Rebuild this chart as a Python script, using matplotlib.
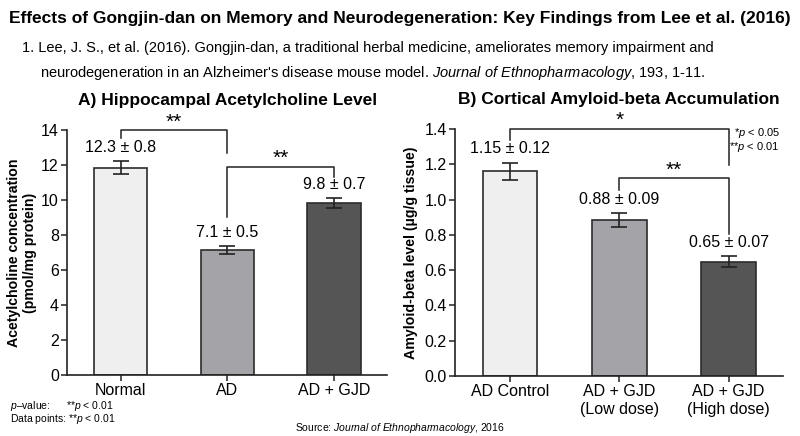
import matplotlib.pyplot as plt

plt.rcParams['font.family'] = ['Liberation Sans', 'DejaVu Sans']
plt.rcParams['mathtext.fontset'] = 'custom'
plt.rcParams['mathtext.rm'] = 'Liberation Sans'
plt.rcParams['mathtext.it'] = 'Liberation Sans:italic'
plt.rcParams['mathtext.bf'] = 'Liberation Sans:bold'

# panel A: acetylcholine
ach_groups = ["Normal", "AD", "AD + GJD"]
ach_values = [11.85, 7.14, 9.82]
ach_err = [0.37, 0.23, 0.30]
ach_labels = ["12.3 ± 0.8", "7.1 ± 0.5", "9.8 ± 0.7"]

# panel B: amyloid-beta
ab_groups = ["AD Control", "AD + GJD\n(Low dose)", "AD + GJD\n(High dose)"]
ab_values = [1.16, 0.885, 0.648]
ab_err = [0.05, 0.04, 0.03]
ab_labels = ["1.15 ± 0.12", "0.88 ± 0.09", "0.65 ± 0.07"]

bar_colors = ["#efefef", "#a4a4a8", "#555555"]
edge = "#2b2b2b"

fig = plt.figure(figsize=(8, 4.36), dpi=100)
fig.patch.set_facecolor("white")

fig.text(0.5, 0.958, "Effects of Gongjin-dan on Memory and Neurodegeneration: Key Findings from Lee et al. (2016)",
         ha="center", va="center", fontsize=12.5, fontweight="bold")
fig.text(0.027, 0.89, "1. Lee, J. S., et al. (2016). Gongjin-dan, a traditional herbal medicine, ameliorates memory impairment and",
         ha="left", va="center", fontsize=10.5)
fig.text(0.05, 0.833, "neurodegeneration in an Alzheimer's disease mouse model. $\\it{Journal\\ of\\ Ethnopharmacology}$, $\\it{193}$, 1-11.",
         ha="left", va="center", fontsize=10.5)

axA = fig.add_axes([0.084, 0.140, 0.400, 0.562])
axB = fig.add_axes([0.569, 0.138, 0.410, 0.566])


def style(ax, ymax, step, fmt):
    for s in ["top", "right"]:
        ax.spines[s].set_visible(False)
    for s in ["left", "bottom"]:
        ax.spines[s].set_linewidth(1.2)
        ax.spines[s].set_color("#222222")
    ax.set_xlim(-0.5, 2.5)
    ax.set_ylim(0, ymax)
    ticks = [i * step for i in range(int(round(ymax / step)) + 1)]
    ax.set_yticks(ticks)
    ax.set_yticklabels([fmt.format(t) for t in ticks])
    ax.tick_params(axis="both", labelsize=11.5, width=1.1, length=4, color="#222222", pad=2)


# panel A
x = range(len(ach_groups))
axA.bar(x, ach_values, width=0.5, color=bar_colors, edgecolor=edge, linewidth=1.2, zorder=2)
axA.errorbar(x, ach_values, yerr=ach_err, fmt="none", ecolor="#222222", elinewidth=1.2, capsize=6, capthick=1.2, zorder=3)
for i, (v, e, lab) in enumerate(zip(ach_values, ach_err, ach_labels)):
    axA.text(i, v + e + 0.35, lab, ha="center", va="bottom", fontsize=11.5)
style(axA, 14, 2, "{:.0f}")
axA.set_xticks(list(x))
axA.set_xticklabels(ach_groups)
axA.set_ylabel("Acetylcholine concentration\n(pmol/mg protein)", fontsize=10.2, fontweight="bold", labelpad=3)
axA.set_title("A) Hippocampal Acetylcholine Level", fontsize=12.5, fontweight="bold", pad=18)

# brackets A
axA.plot([0, 0, 1, 1], [13.54, 14.0, 14.0, 12.69], color="#222222", lw=1.1, clip_on=False)
axA.text(0.5, 14.45, "**", ha="center", va="center", fontsize=15)
axA.plot([1, 1, 2, 2], [9.03, 11.89, 11.89, 11.31], color="#222222", lw=1.1, clip_on=False)
axA.text(1.5, 12.4, "**", ha="center", va="center", fontsize=15)

# panel B
x = range(len(ab_groups))
axB.bar(x, ab_values, width=0.5, color=bar_colors, edgecolor=edge, linewidth=1.2, zorder=2)
axB.errorbar(x, ab_values, yerr=ab_err, fmt="none", ecolor="#222222", elinewidth=1.2, capsize=6, capthick=1.2, zorder=3)
for i, (v, e, lab) in enumerate(zip(ab_values, ab_err, ab_labels)):
    axB.text(i, v + e + 0.035, lab, ha="center", va="bottom", fontsize=11.5)
style(axB, 1.4, 0.2, "{:.1f}")
axB.set_xticks(list(x))
axB.set_xticklabels(ab_groups)
axB.set_ylabel("Amyloid-beta level (µg/g tissue)", fontsize=10.2, fontweight="bold", labelpad=5)
axB.set_title("B) Cortical Amyloid-beta Accumulation", fontsize=12.5, fontweight="bold", pad=18)

axB.plot([0, 0, 2, 2], [1.338, 1.4, 1.4, 1.196], color="#222222", lw=1.1, clip_on=False)
axB.text(1.0, 1.45, "*", ha="center", va="center", fontsize=15)
axB.plot([1, 1, 2, 2], [1.054, 1.122, 1.122, 0.805], color="#222222", lw=1.1, clip_on=False)
axB.text(1.5, 1.168, "**", ha="center", va="center", fontsize=15)

fig.text(0.975, 0.695, "*$\\it{p}$ < 0.05", ha="right", va="center", fontsize=8)
fig.text(0.975, 0.663, "**$\\it{p}$ < 0.01", ha="right", va="center", fontsize=8)

fig.text(0.012, 0.068, "$\\it{p}$–value:", ha="left", va="center", fontsize=7.5)
fig.text(0.082, 0.068, "**$\\it{p}$ < 0.01", ha="left", va="center", fontsize=7.5)
fig.text(0.012, 0.038, "Data points: **$\\it{p}$ < 0.01", ha="left", va="center", fontsize=7.5)
fig.text(0.5, 0.018, "Source: $\\it{Journal\\ of\\ Ethnopharmacology}$, 2016", ha="center", va="center", fontsize=7.5)

fig.savefig("out.png", dpi=100, facecolor="white")
